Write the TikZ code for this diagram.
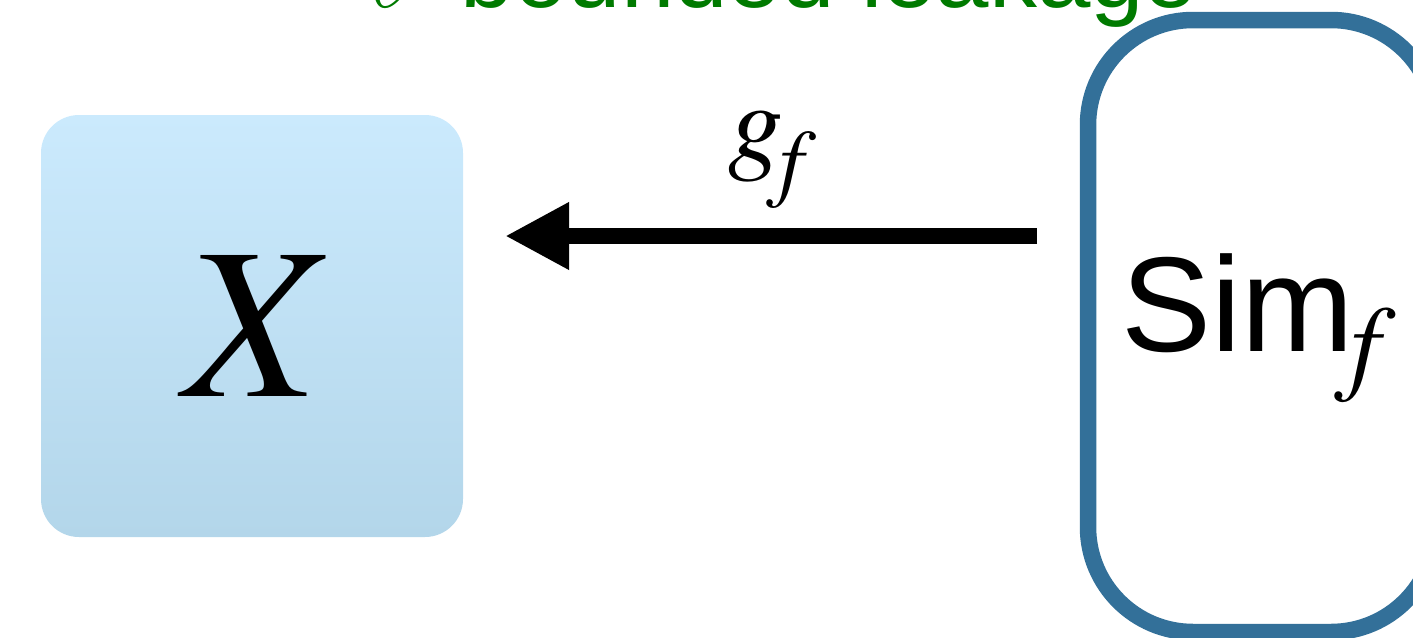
\RequirePackage{fix-cm}
\documentclass[tikz,border=0pt]{standalone}
\usepackage{mathptmx}
\usepackage{fontspec}
\setmainfont{Liberation Sans}
\usetikzlibrary{arrows.meta}
\definecolor{lkgreen}{RGB}{0,122,0}
\definecolor{simblue}{RGB}{51,112,153}
\definecolor{xtop}{RGB}{203,234,253}
\definecolor{xbot}{RGB}{179,214,234}
\newcommand\fsz[1]{\fontsize{#1}{#1}\selectfont}
\tikzset{
  xboxst/.style={rectangle, rounded corners=38pt, top color=xtop, bottom color=xbot,
    draw=none, minimum width=422pt, minimum height=422pt, inner sep=0pt, outer sep=0pt},
  simboxst/.style={rectangle, rounded corners=105pt, draw=simblue, line width=16.5pt,
    minimum width=348pt, minimum height=612pt, inner sep=0pt, outer sep=0pt},
  lbl/.style={anchor=base west, inner sep=0pt, outer sep=0pt},
  conn/.style={line width=16pt, -{Triangle[length=64pt,width=63pt]}}
}
\begin{document}
\begin{tikzpicture}[x=1pt,y=-1pt]
\useasboundingbox (0,0) rectangle (1413,637);
\clip (0,0) rectangle (1413,637);
\node[xboxst] (xbox) at (252,326) {\fsz{216}\kern18pt$X$};
\node[simboxst] (simbox) at (1262,326) {};
\node[lbl] (simlabel) at (1121,351) {\fsz{135}Sim\kern-19pt\raisebox{-29pt}{\fsz{107}$f$}};
\node[lbl] (glabel) at (728,159) {\fsz{110}$g$\kern-17pt\raisebox{-31pt}{\fsz{87}$f$}};
\node[lbl, text=lkgreen] (title) at (365,8) {\fsz{96}$\ell$\kern24pt-bounded leakage};
\draw[conn] ([xshift=-51pt,yshift=90pt]simbox.west) -- ([xshift=42pt,yshift=90pt]xbox.east);
\end{tikzpicture}
\end{document}
